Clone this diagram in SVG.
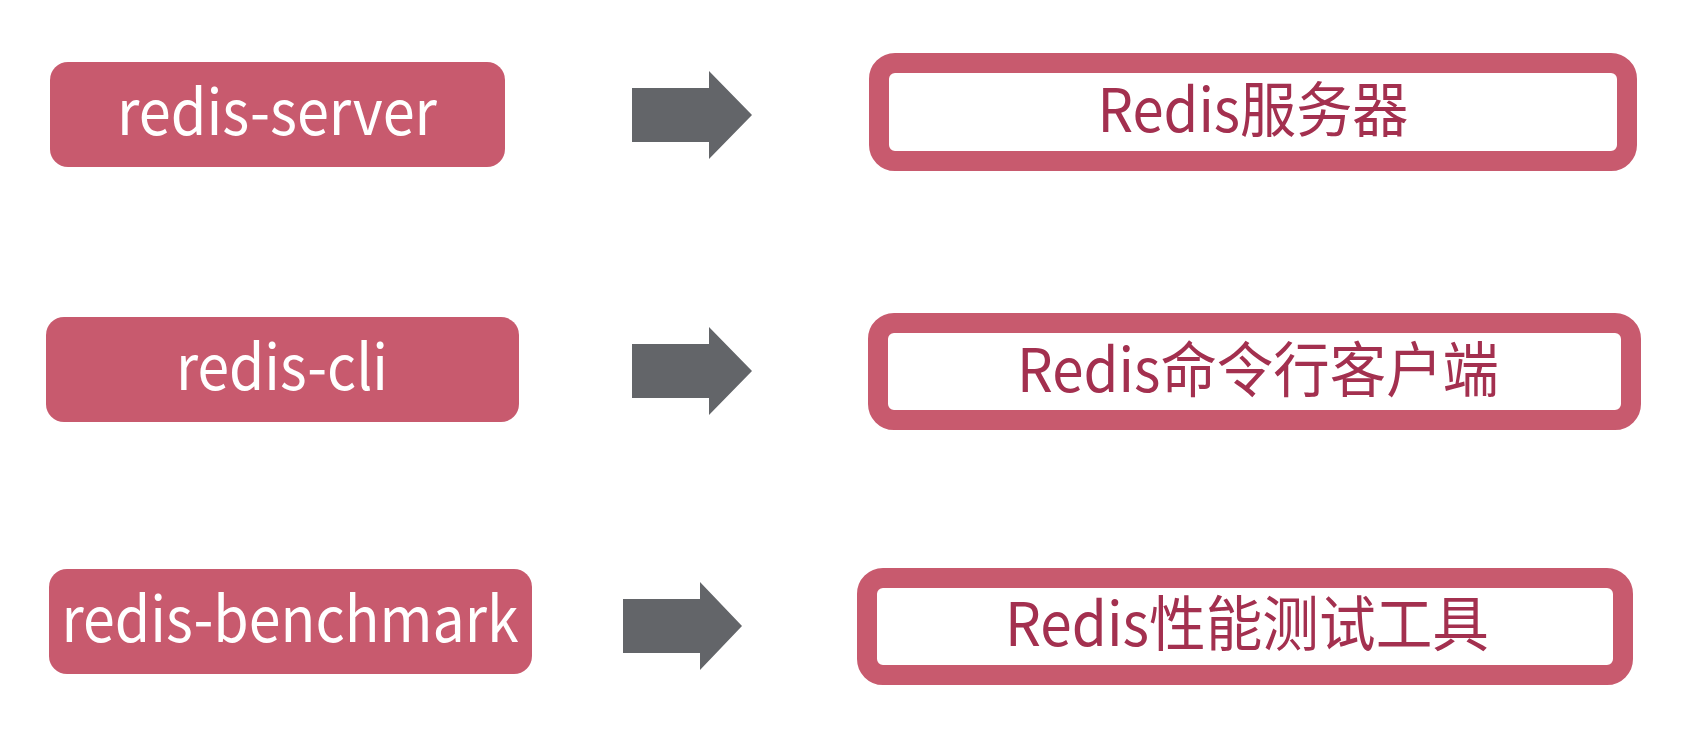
<svg xmlns="http://www.w3.org/2000/svg" width="1690" height="740" viewBox="0 0 1690 740">
<style>
.src{fill:#c85a6e}
.srct{fill:#ffffff;font-family:"Noto Sans CJK SC","Noto Sans",sans-serif;font-size:63px;text-anchor:middle}
.dst{fill:#ffffff;stroke:#c85a6e;stroke-width:20}
.dstt{fill:#a3304f;font-family:"Noto Sans CJK SC","Noto Sans",sans-serif;font-size:60px;text-anchor:middle}
.arrow{fill:#636569}
</style>
<rect width="1690" height="740" fill="#ffffff"/>
<g id="redis-server">
<rect class="src" x="50" y="62" width="455" height="105" rx="18"/>
<text class="srct" x="277" y="135" textLength="320" lengthAdjust="spacingAndGlyphs">redis-server</text>
</g>
<g id="redis-cli">
<rect class="src" x="46" y="317" width="473" height="105" rx="18"/>
<text class="srct" x="282" y="390" textLength="212" lengthAdjust="spacingAndGlyphs">redis-cli</text>
</g>
<g id="redis-benchmark">
<rect class="src" x="49" y="569" width="483" height="105" rx="18"/>
<text class="srct" x="290" y="642" textLength="457" lengthAdjust="spacingAndGlyphs">redis-benchmark</text>
</g>
<g id="server-desc">
<rect class="dst" x="879" y="63" width="748" height="98" rx="16"/>
<text class="dstt" x="1253" y="132" textLength="311" lengthAdjust="spacingAndGlyphs">Redis服务器</text>
</g>
<g id="cli-desc">
<rect class="dst" x="878" y="323" width="753" height="97" rx="16"/>
<text class="dstt" x="1258" y="392" textLength="482" lengthAdjust="spacingAndGlyphs">Redis命令行客户端</text>
</g>
<g id="benchmark-desc">
<rect class="dst" x="867" y="578" width="756" height="97" rx="16"/>
<text class="dstt" x="1247" y="646" textLength="484" lengthAdjust="spacingAndGlyphs">Redis性能测试工具</text>
</g>
<g id="connectors">
<polygon class="arrow" points="632,88 709,88 709,71 752,115 709,159 709,142 632,142"/>
<polygon class="arrow" points="632,344 709,344 709,327 752,371 709,415 709,398 632,398"/>
<polygon class="arrow" points="623,599 700,599 700,582 742,626 700,670 700,653 623,653"/>
</g>
</svg>
